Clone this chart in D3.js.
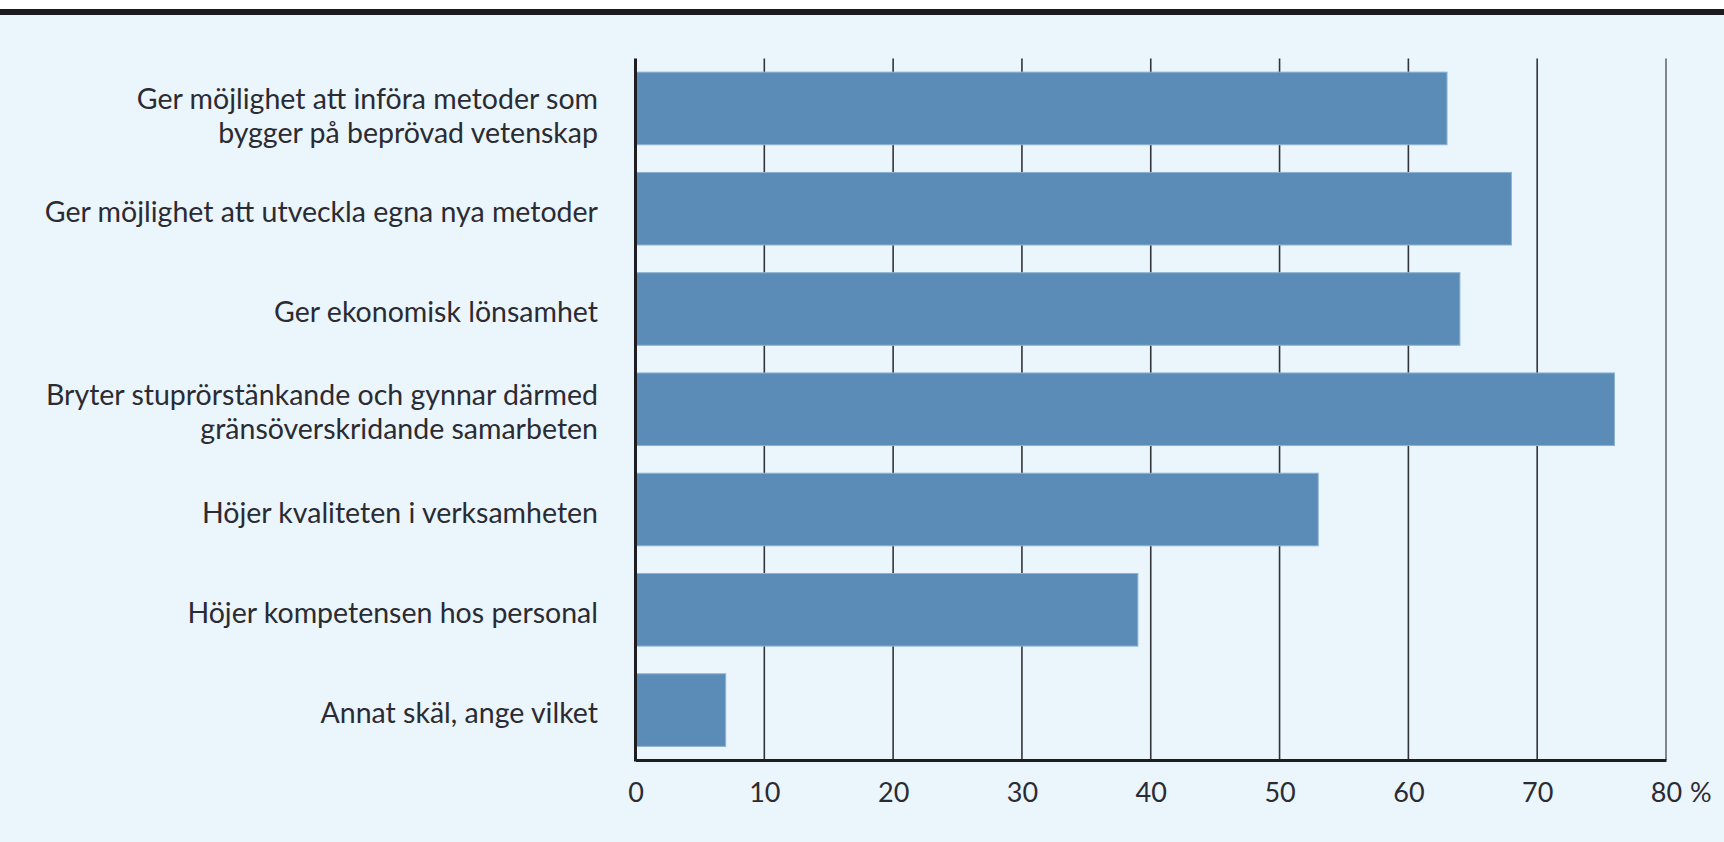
<!DOCTYPE html>
<html>
<head>
<meta charset="utf-8">
<script src="https://cdn.jsdelivr.net/npm/d3@7"></script>
<style>
  body { margin: 0; background: #ffffff; }
  svg { display: block; }
</style>
</head>
<body>
<div class="chart"></div>
<script>
// data //
let categories = [
  ['Ger möjlighet att införa metoder som', 'bygger på beprövad vetenskap'],
  ['Ger möjlighet att utveckla egna nya metoder'],
  ['Ger ekonomisk lönsamhet'],
  ['Bryter stuprörstänkande och gynnar därmed', 'gränsöverskridande samarbeten'],
  ['Höjer kvaliteten i verksamheten'],
  ['Höjer kompetensen hos personal'],
  ['Annat skäl, ange vilket']
];
let values = [63, 68, 64, 76, 53, 39, 7];
let tickValues = [0, 10, 20, 30, 40, 50, 60, 70, 80];
let unitLabel = '%';

// sizes //
let w = 1724;
let h = 842;
let plotLeft = 635.5;
let plotRight = 1666;
let plotTop = 58.5;
let plotBottom = 760;
let font = 'Lato, "Open Sans", sans-serif';
let textColor = '#2b2b33';

let svg = d3.select('.chart')
  .append('svg')
  .attr('width', w)
  .attr('height', h);

// background + top rule
svg.append('rect')
  .attr('x', 0).attr('y', 0)
  .attr('width', w).attr('height', h)
  .attr('fill', '#eaf5fc');
svg.append('rect')
  .attr('x', 0).attr('y', 0)
  .attr('width', w).attr('height', 9)
  .attr('fill', '#ffffff');
svg.append('rect')
  .attr('x', 0).attr('y', 9)
  .attr('width', w).attr('height', 6)
  .attr('fill', '#1c1c1e');

let xScale = d3.scaleLinear()
  .domain([0, 80])
  .range([plotLeft, plotRight]);

let yScale = d3.scaleBand()
  .domain(d3.range(categories.length))
  .range([plotTop, plotBottom])
  .paddingInner(0.276)
  .paddingOuter(0.136);

// gridlines
svg.append('g')
  .selectAll('line')
  .data(tickValues.filter(d => d > 0))
  .enter()
  .append('line')
  .attr('x1', d => xScale(d))
  .attr('x2', d => xScale(d))
  .attr('y1', plotTop)
  .attr('y2', plotBottom)
  .attr('stroke', d => d === 80 ? '#666a70' : '#33343a')
  .attr('stroke-width', 1.6);

// bars
svg.append('g')
  .selectAll('rect')
  .data(values)
  .enter()
  .append('rect')
  .attr('x', xScale(0))
  .attr('y', (d, i) => yScale(i))
  .attr('width', d => xScale(d) - xScale(0))
  .attr('height', yScale.bandwidth())
  .attr('fill', '#5b8cb7')
  .attr('stroke', '#8db2d3')
  .attr('stroke-width', 1);

// axes
svg.append('line')
  .attr('x1', xScale(0)).attr('x2', xScale(0))
  .attr('y1', plotTop).attr('y2', plotBottom + 1.5)
  .attr('stroke', '#1e1e22')
  .attr('stroke-width', 3);

let xAxis = d3.axisBottom(xScale)
  .tickValues(tickValues)
  .tickSize(0)
  .tickPadding(23)
  .tickFormat(d3.format('d'));

let gx = svg.append('g')
  .attr('transform', `translate(0, ${plotBottom})`)
  .call(xAxis);
gx.select('.domain')
  .attr('stroke', '#1e1e22')
  .attr('stroke-width', 3);
gx.selectAll('text')
  .attr('font-family', font)
  .attr('font-size', 27)
  .attr('fill', textColor);

svg.append('text')
  .attr('x', xScale(80) + 24)
  .attr('y', plotBottom + 23 + 27 * 0.71)
  .attr('font-family', font)
  .attr('font-size', 27)
  .attr('fill', textColor)
  .text(unitLabel);

// category labels
let lineH = 34;
let labels = svg.append('g')
  .selectAll('text')
  .data(categories)
  .enter()
  .append('text')
  .attr('text-anchor', 'end')
  .attr('font-family', font)
  .attr('font-size', 28.5)
  .attr('fill', textColor)
  // first label sits a bit lower in the original
  .attr('y', (d, i) => yScale(i) + yScale.bandwidth() / 2 - (d.length - 1) * lineH / 2 + 13 + (i === 0 ? 5 : 0));

labels.selectAll('tspan')
  .data(d => d)
  .enter()
  .append('tspan')
  .attr('x', 598)
  .attr('dy', (d, i) => i === 0 ? 0 : lineH)
  .text(d => d);
</script>
</body>
</html>
